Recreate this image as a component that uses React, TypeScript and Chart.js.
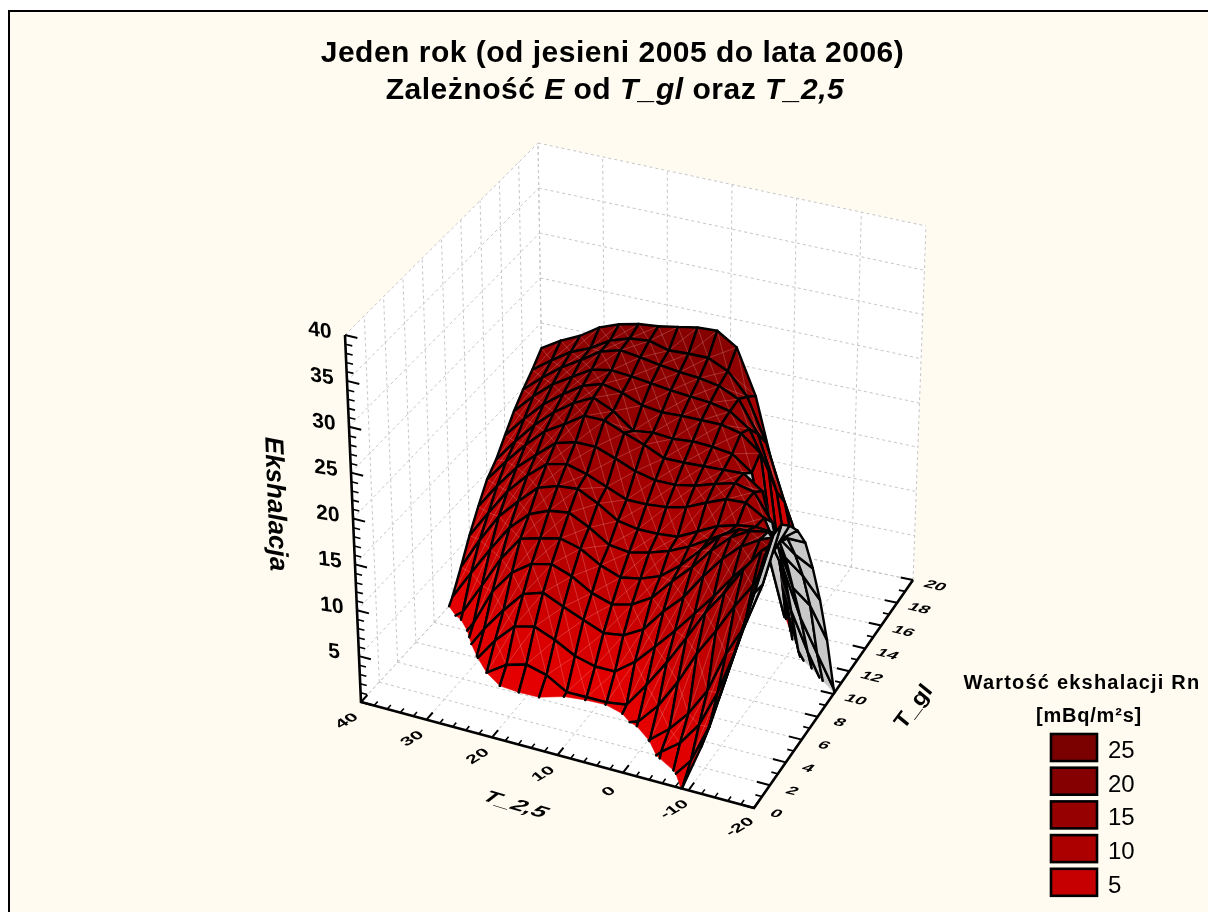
import React, { useEffect, useRef } from "react";
import { Chart, registerables } from "chart.js";

Chart.register(...registerables);

// ---------- data ----------
const T25_NODES = [40, 36.9, 33.8, 30.7, 27.6, 24.5, 21.4, 18.3, 15.2, 12.1, 9, 5.9, 2.8, -0.3, -3.3, -6.2, -9.1, -11.9, -14.6, -17.3, -20];
const TGL_NODES = [0, 1, 2, 3, 4, 5, 6, 7, 8, 9, 10, 11, 12, 13, 14, 15, 16, 17, 18, 19, 20];
// one row per T_gl node, one value per T_2,5 node
const EXHALATION = [
  [-12, -12, -12, -12, -12, -12, -12, -12, -12, -11, -10, -9, -8, -6, -4, -2, 0.2, 5, 10.8, 17, 24],
  [-12, -12, -12, -12, -11, -10, -10, -10, -9, -9, -8, -7, -6, -4.5, -2.5, -0.5, 1.8, 6, 12.2, 18.7, 26],
  [-12, -12, -12, -11, -8, -7, -6.5, -6, -6, -5.5, -5.5, -4.5, -3.5, -1.5, 0.5, 2, 4.5, 8.5, 13.6, 20.3, 27],
  [-12, -12, -10, -8, -5, -3, -3.5, -3, -3, -3, -3, -2.5, -1.5, 0.1, 1.8, 4, 7, 11.5, 14.9, 20, 27],
  [-12, -10, -7, -4, -2, -0.4, -0.2, -0.2, -0.2, -0.5, -0.7, -0.4, 0.3, 2.6, 5.7, 9.3, 12.3, 15.5, 18.2, 22, 25.7],
  [-10, -8, -5, -2, 0, 1.4, 2, 1.4, 0.1, 0.1, 0.1, 0.4, 3.1, 6.1, 9.3, 12.6, 15.3, 18.3, 20.8, 22.5, 24],
  [-8, -6, -3, -0.3, 2.4, 4.5, 5, 4.1, 2.9, 2.3, 2.3, 3.9, 6.1, 8.4, 10.8, 13.2, 15.8, 18, 20, 21.5, 21.5],
  [-6, -4, -1, 2, 4.6, 6.9, 7.6, 6.6, 5.7, 4.8, 5.1, 6.3, 8.8, 10.9, 13.7, 16.1, 18, 19.2, 20, 18.5, 17.5],
  [-4, -2, 1, 5, 7.6, 9.1, 9.6, 8.8, 7.5, 6.8, 7.3, 8.6, 10.9, 13, 15.4, 17.3, 18.5, 18.9, 16.5, 15, 12.8],
  [-1, 0.6, 4, 7.5, 10.2, 10.8, 11.3, 10.7, 9.4, 8.6, 9, 9.8, 11.5, 13.7, 15.8, 17, 17.1, 17, 12, 10.5, 7.2],
  [0.6, 3.8, 6.9, 9.8, 11.8, 12.7, 13, 11.9, 10.5, 10.2, 10.7, 11.4, 12.4, 13.7, 15, 15.7, 15.8, 12.3, 7.5, 4, 0.6],
  [2.8, 6.3, 9.4, 11.6, 13.6, 14.3, 14.5, 13.4, 12, 11.6, 11.6, 11.8, 12.9, 14, 14.6, 14.9, 14.7, 6.6, 2.5, -1, -5],
  [5.2, 8.2, 11.1, 13.3, 15.1, 15.6, 15, 14.1, 13.2, 13.2, 13.4, 13.9, 14.9, 15.8, 15.9, 14.7, 10.4, 0.9, -2, -6, -9],
  [7.3, 10.1, 12.6, 14.5, 16.3, 16.9, 16.9, 16.1, 15.2, 14.7, 14.7, 15.1, 15.8, 16.4, 15.9, 13, 3, -3, -6, -9, -12],
  [9.2, 11.7, 14, 16, 17.3, 18.7, 18.7, 17.8, 17, 16, 16, 16.1, 16.2, 16.3, 14.8, 7.5, -4, -6, -9, -12, -14],
  [10.3, 12.8, 15.1, 17, 18.5, 19.6, 18.6, 16.9, 17.2, 17, 17.2, 17.1, 16.8, 15.2, 6, -1, -5, -8, -11, -14, -16],
  [11.9, 14.2, 16.3, 17.9, 19.3, 20, 19.5, 18.6, 18.3, 18.4, 18.4, 18.4, 17.9, 16.2, 2, -5, -7, -10, -13, -16, -18],
  [13.5, 15.6, 17.4, 18.7, 20, 20.4, 20.2, 19.9, 19.6, 19.4, 19.2, 18.7, 17.2, 13, -1.5, -5, -8, -11, -14, -17, -19],
  [14.8, 16.6, 18.2, 19.5, 20.9, 21.5, 21.2, 20.8, 20.5, 20.3, 19.9, 18.9, 15.5, 9.5, -2, -6, -9, -12, -15, -18, -20],
  [15.9, 17.4, 18.8, 19.7, 21, 21.7, 21.9, 21.3, 21.4, 21.4, 20.4, 18, 13.3, 7.1, -2, -6, -10, -13, -16, -19, -21],
  [17.2, 18.5, 19.5, 20.9, 21.7, 22.2, 22.4, 22.8, 23.2, 23.3, 21.9, 16.9, 8.9, 3.4, -2, -8, -11, -14, -17, -20, -22],
];
const T25_TICKS = [40, 30, 20, 10, 0, -10, -20];
const TGL_TICKS = [0, 2, 4, 6, 8, 10, 12, 14, 16, 18, 20];
const E_TICKS = [5, 10, 15, 20, 25, 30, 35, 40];
const LEGEND_LEVELS = [25, 20, 15, 10, 5];
const LEGEND_REDS = [123, 133, 150, 172, 198];
const COLOR_STOPS = [0, 5, 10, 15, 20, 25];
const COLOR_REDS = [232, 210, 185, 160, 140, 128];

// ---------- view: where the box's corners fall ----------
const FLOOR = { A: [361, 702], B: [754, 808], C: [913, 580], D: [544, 503] };
const ROOF = { A: [345, 335], B: [758, 436], C: [926, 226], D: [538, 143] };
const T_MAX = 40, T_MIN = -20, G_MAX = 20, E_MAX = 40;

const mix = (a: number, b: number, f: number) => a + (b - a) * f;
function sheet(c: any, t: number, g: number, i: number) {
  return mix(mix(c.A[i], c.B[i], t), mix(c.D[i], c.C[i], t), g);
}
function project(T: number, G: number, E: number) {
  const t = (T_MAX - T) / (T_MAX - T_MIN), g = G / G_MAX, e = E / E_MAX;
  return {
    x: mix(sheet(FLOOR, t, g, 0), sheet(ROOF, t, g, 0), e),
    y: mix(sheet(FLOOR, t, g, 1), sheet(ROOF, t, g, 1), e),
  };
}
function red(E: number) {
  const v = Math.max(0, Math.min(25, E));
  let i = 0;
  while (i < COLOR_STOPS.length - 2 && v > COLOR_STOPS[i + 1]) i++;
  const f = (v - COLOR_STOPS[i]) / (COLOR_STOPS[i + 1] - COLOR_STOPS[i]);
  return `rgb(${Math.round(mix(COLOR_REDS[i], COLOR_REDS[i + 1], f))},0,0)`;
}

type V = { T: number; G: number; E: number };
function clipQuad(q: V[]) {
  const out: any[] = [];
  for (let i = 0; i < q.length; i++) {
    const p = q[i], n = q[(i + 1) % q.length];
    const pin = p.E >= 0, nin = n.E >= 0;
    const cut = () => {
      const f = p.E / (p.E - n.E);
      return { T: mix(p.T, n.T, f), G: mix(p.G, n.G, f), E: 0 };
    };
    if (pin) out.push({ ...p, edge: true });
    if (pin && !nin) out.push({ ...cut(), edge: false });
    if (!pin && nin) out.push({ ...cut(), edge: true });
  }
  return out;
}
const GAP = { x: NaN, y: NaN };
function polyline(points: V[]) {
  return [...points.map((p) => project(p.T, p.G, p.E)), GAP];
}

function buildDatasets() {
  const back: any[] = [];
  const wall = (pts: V[]) =>
    back.push({ type: "line", poly: true, fillColor: "#ffffff", seal: "#ffffff", lines: false, data: pts.map((p) => ({ ...project(p.T, p.G, p.E), edge: false })) });
  wall([{ T: 40, G: 0, E: 0 }, { T: -20, G: 0, E: 0 }, { T: -20, G: 20, E: 0 }, { T: 40, G: 20, E: 0 }]);
  wall([{ T: 40, G: 0, E: 0 }, { T: 40, G: 20, E: 0 }, { T: 40, G: 20, E: 40 }, { T: 40, G: 0, E: 40 }]);
  wall([{ T: 40, G: 20, E: 0 }, { T: -20, G: 20, E: 0 }, { T: -20, G: 20, E: 40 }, { T: 40, G: 20, E: 40 }]);

  const grid: any[] = [];
  const eLevels = [0, ...E_TICKS];
  TGL_TICKS.forEach((G) => {
    grid.push(...polyline([{ T: 40, G, E: 0 }, { T: -20, G, E: 0 }]));
    grid.push(...polyline([{ T: 40, G, E: 0 }, { T: 40, G, E: 40 }]));
  });
  T25_TICKS.forEach((T) => {
    grid.push(...polyline([{ T, G: 0, E: 0 }, { T, G: 20, E: 0 }]));
    grid.push(...polyline([{ T, G: 20, E: 0 }, { T, G: 20, E: 40 }]));
  });
  eLevels.forEach((E) => {
    grid.push(...polyline([{ T: 40, G: 0, E }, { T: 40, G: 20, E }]));
    grid.push(...polyline([{ T: 40, G: 20, E }, { T: -20, G: 20, E }]));
  });
  back.push({ type: "line", data: grid, borderColor: "#c6c6c6", borderWidth: 1, borderDash: [3, 3], pointRadius: 0, spanGaps: false });

  for (let gi = TGL_NODES.length - 2; gi >= 0; gi--) {
    for (let ki = 0; ki < T25_NODES.length - 1; ki++) {
      const raw: V[] = [
        { T: T25_NODES[ki], G: TGL_NODES[gi], E: EXHALATION[gi][ki] },
        { T: T25_NODES[ki + 1], G: TGL_NODES[gi], E: EXHALATION[gi][ki + 1] },
        { T: T25_NODES[ki + 1], G: TGL_NODES[gi + 1], E: EXHALATION[gi + 1][ki + 1] },
        { T: T25_NODES[ki], G: TGL_NODES[gi + 1], E: EXHALATION[gi + 1][ki] },
      ];
      const clipped = clipQuad(raw);
      if (clipped.length < 3) continue;
      const s = raw.map((v) => project(v.T, v.G, v.E));
      let area = 0;
      s.forEach((p, i) => {
        const n = s[(i + 1) % 4];
        area += p.x * n.y - n.x * p.y;
      });
      const mean = clipped.reduce((a: number, v: V) => a + v.E, 0) / clipped.length;
      const color = area > 0 ? "#c8c8c8" : red(mean);
      back.push({
        type: "line",
        poly: true,
        fillColor: color,
        seal: color,
        lines: true,
        hatch: raw.every((v) => v.E >= 0) && area <= 0,
        data: clipped.map((v: any) => ({ ...project(v.T, v.G, v.E), edge: v.edge })),
      });
    }
  }

  const minor: any[] = [];
  const major: any[] = [];
  for (let T = 40; T >= -20; T -= 2) {
    const big = T % 10 === 0;
    (big ? major : minor).push(...polyline([{ T, G: 0, E: 0 }, { T, G: big ? 0.7 : 0.4, E: 0 }]));
  }
  for (let G = 0; G <= 20; G += 1) {
    const big = G % 2 === 0;
    (big ? major : minor).push(...polyline([{ T: -20, G, E: 0 }, { T: big ? -18 : -19, G, E: 0 }]));
  }
  for (let E = 0; E <= 40; E += 1) {
    const big = E % 5 === 0;
    (big ? major : minor).push(...polyline([{ T: 40, G: 0, E }, { T: big ? 38.2 : 39, G: 0, E }]));
  }
  back.push({ type: "line", data: minor, borderColor: "#000", borderWidth: 1.6, pointRadius: 0, spanGaps: false });
  back.push({ type: "line", data: major, borderColor: "#000", borderWidth: 2, pointRadius: 0, spanGaps: false });
  back.push({
    type: "line",
    data: [
      ...polyline([{ T: 40, G: 0, E: 40 }, { T: 40, G: 0, E: 0 }, { T: -20, G: 0, E: 0 }, { T: -20, G: 20, E: 0 }]),
    ],
    borderColor: "#000",
    borderWidth: 2.6,
    pointRadius: 0,
    spanGaps: false,
  });
  return back.reverse();
}

function skewText(ctx: any, text: string, x: number, y: number, u: number[], v: number[], font: string) {
  ctx.save();
  ctx.transform(u[0], u[1], v[0], v[1], x, y);
  ctx.font = font;
  ctx.fillStyle = "#000";
  ctx.textAlign = "center";
  ctx.textBaseline = "middle";
  ctx.fillText(text, 0, 0);
  ctx.restore();
}
function runs(ctx: any, parts: [string, string][], cx: number, y: number) {
  ctx.textAlign = "left";
  ctx.textBaseline = "alphabetic";
  ctx.fillStyle = "#000";
  let w = 0;
  parts.forEach(([t, f]) => {
    ctx.font = f;
    w += ctx.measureText(t).width;
  });
  let x = cx - w / 2;
  parts.forEach(([t, f]) => {
    ctx.font = f;
    ctx.fillText(t, x, y);
    x += ctx.measureText(t).width;
  });
}

const SANS = '"Liberation Sans", Arial, sans-serif';

const scenePlugin = {
  id: "scene",
  beforeDraw(chart: any) {
    const { ctx } = chart;
    ctx.save();
    ctx.fillStyle = "#ffffff";
    ctx.fillRect(0, 0, 1208, 912);
    ctx.fillStyle = "#fffbf0";
    ctx.fillRect(9, 11, 1199, 901);
    ctx.fillStyle = "#000";
    ctx.fillRect(8, 10, 1200, 2);
    ctx.fillRect(8, 10, 2, 902);
    ctx.restore();
  },
  beforeDatasetDraw(chart: any, args: any) {
    const ds = chart.data.datasets[args.index];
    if (!ds.poly) return;
    const { ctx } = chart;
    const pts = args.meta.data.map((e: any) => ({ x: e.x, y: e.y }));
    ctx.save();
    ctx.beginPath();
    pts.forEach((p: any, i: number) => (i ? ctx.lineTo(p.x, p.y) : ctx.moveTo(p.x, p.y)));
    ctx.closePath();
    ctx.fillStyle = ds.fillColor;
    ctx.fill();
    ctx.strokeStyle = ds.seal;
    ctx.lineWidth = 0.6;
    ctx.stroke();
    if (ds.hatch) {
      ctx.strokeStyle = "rgba(255,205,205,0.24)";
      ctx.lineWidth = 1;
      ctx.beginPath();
      ctx.moveTo(pts[0].x, pts[0].y);
      ctx.lineTo(pts[2].x, pts[2].y);
      ctx.moveTo(pts[1].x, pts[1].y);
      ctx.lineTo(pts[3].x, pts[3].y);
      ctx.stroke();
    }
    if (ds.lines) {
      ctx.strokeStyle = "#000";
      ctx.lineWidth = 2.4;
      ctx.lineCap = "round";
      ctx.beginPath();
      pts.forEach((p: any, i: number) => {
        if (ds.data[i].edge) {
          const n = pts[(i + 1) % pts.length];
          ctx.moveTo(p.x, p.y);
          ctx.lineTo(n.x, n.y);
        }
      });
      ctx.stroke();
    }
    ctx.restore();
  },
  afterDraw(chart: any) {
    const { ctx, scales } = chart;
    const px = (p: { x: number; y: number }) => [scales.x.getPixelForValue(p.x), scales.y.getPixelForValue(p.y)];
    ctx.save();
    const B = `bold 30px ${SANS}`, BI = `italic bold 30px ${SANS}`;
    ctx.letterSpacing = "0.5px";
    runs(ctx, [["Jeden rok (od jesieni 2005 do lata 2006)", B]], 612.5, 62);
    runs(ctx, [["Zależność ", B], ["E", BI], [" od ", B], ["T_gl", BI], [" oraz ", B], ["T_2,5", BI]], 615, 99);
    ctx.letterSpacing = "0px";

    T25_TICKS.forEach((T) => {
      const [x, y] = px(project(T, 0, 0));
      skewText(ctx, String(T), x - 14, y + 19, [0.85, -0.5], [0.55, 0.45], `bold 20px ${SANS}`);
    });
    TGL_TICKS.forEach((G) => {
      const [x, y] = px(project(-20, G, 0));
      skewText(ctx, String(G), x + 22, y + 6, [1, 0.25], [-0.5, 0.55], `bold 18px ${SANS}`);
    });
    E_TICKS.forEach((E) => {
      const [x, y] = px(project(40, 0, E));
      skewText(ctx, String(E), x - 25, y - 4, [1, 0.15], [0.05, 1], `bold 21px ${SANS}`);
    });
    skewText(ctx, "T_2,5", 515, 805, [1, 0.3], [-0.5, 0.6], `italic bold 24px ${SANS}`);
    skewText(ctx, "T_gl", 914, 707, [0.6, -0.8], [0.8, 0.4], `italic bold 24px ${SANS}`);
    skewText(ctx, "Ekshalacja", 275, 504, [0.04, 1], [-1, 0], `italic bold 26px ${SANS}`);

    ctx.fillStyle = "#000";
    ctx.textBaseline = "alphabetic";
    ctx.textAlign = "center";
    ctx.font = `bold 20px ${SANS}`;
    ctx.letterSpacing = "1.2px";
    ctx.fillText("Wartość ekshalacji Rn", 1082, 689);
    ctx.letterSpacing = "0.8px";
    ctx.fillText("[mBq/m²s]", 1089, 722);
    ctx.letterSpacing = "0px";
    LEGEND_LEVELS.forEach((L, i) => {
      const top = 734 + i * 33.7;
      ctx.fillStyle = `rgb(${LEGEND_REDS[i]},0,0)`;
      ctx.fillRect(1051, top, 46, 27);
      ctx.strokeStyle = "#000";
      ctx.lineWidth = 2.6;
      ctx.strokeRect(1051, top, 46, 27);
      ctx.fillStyle = "#000";
      ctx.textAlign = "left";
      ctx.font = `24px ${SANS}`;
      ctx.fillText(String(L), 1108, top + 24);
    });
    ctx.restore();
  },
};

export default function App() {
  const ref = useRef<HTMLCanvasElement>(null);
  useEffect(() => {
    const chart = new Chart(ref.current as any, {
      type: "line",
      data: { datasets: buildDatasets() as any },
      options: {
        animation: false,
        responsive: false,
        events: [],
        layout: { padding: 0 },
        elements: { point: { radius: 0 }, line: { tension: 0, borderWidth: 0 } },
        plugins: { legend: { display: false }, title: { display: false }, tooltip: { enabled: false } },
        scales: {
          x: { type: "linear", min: 0, max: 1208, display: false },
          y: { type: "linear", min: 0, max: 912, reverse: true, display: false },
        },
      } as any,
      plugins: [scenePlugin],
    });
    return () => chart.destroy();
  }, []);
  return (
    <canvas
      ref={ref}
      width={1208}
      height={912}
      style={{ position: "absolute", left: 0, top: 0, display: "block" }}
    />
  );
}
